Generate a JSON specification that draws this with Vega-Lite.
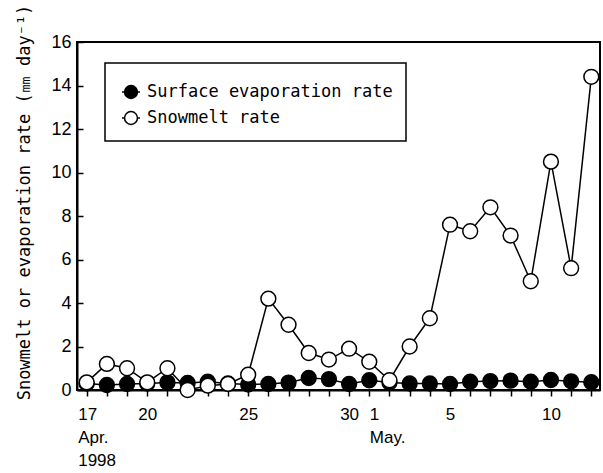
{
  "$schema": "https://vega.github.io/schema/vega-lite/v6.json",
  "width": 523,
  "height": 348,
  "autosize": "none",
  "padding": {"left": 77, "top": 42, "right": 3, "bottom": 83},
  "background": "white",
  "config": {
    "view": {"stroke": "black", "strokeWidth": 2},
    "axis": {"grid": false, "domainColor": "black", "domainWidth": 2, "tickColor": "black", "tickWidth": 1.5, "labelColor": "black", "titleColor": "black"},
    "legend": {"strokeWidth": 1.5}
  },
  "data": {
    "values": [
      {"day": 0, "series": "Surface evaporation rate", "rate": 0.3},
      {"day": 1, "series": "Surface evaporation rate", "rate": 0.23},
      {"day": 2, "series": "Surface evaporation rate", "rate": 0.28},
      {"day": 3, "series": "Surface evaporation rate", "rate": 0.3},
      {"day": 4, "series": "Surface evaporation rate", "rate": 0.35},
      {"day": 5, "series": "Surface evaporation rate", "rate": 0.32},
      {"day": 6, "series": "Surface evaporation rate", "rate": 0.38},
      {"day": 7, "series": "Surface evaporation rate", "rate": 0.3},
      {"day": 8, "series": "Surface evaporation rate", "rate": 0.25},
      {"day": 9, "series": "Surface evaporation rate", "rate": 0.28},
      {"day": 10, "series": "Surface evaporation rate", "rate": 0.34},
      {"day": 11, "series": "Surface evaporation rate", "rate": 0.55},
      {"day": 12, "series": "Surface evaporation rate", "rate": 0.5},
      {"day": 13, "series": "Surface evaporation rate", "rate": 0.28},
      {"day": 14, "series": "Surface evaporation rate", "rate": 0.45},
      {"day": 15, "series": "Surface evaporation rate", "rate": 0.35},
      {"day": 16, "series": "Surface evaporation rate", "rate": 0.3},
      {"day": 17, "series": "Surface evaporation rate", "rate": 0.3},
      {"day": 18, "series": "Surface evaporation rate", "rate": 0.28},
      {"day": 19, "series": "Surface evaporation rate", "rate": 0.38},
      {"day": 20, "series": "Surface evaporation rate", "rate": 0.41},
      {"day": 21, "series": "Surface evaporation rate", "rate": 0.43},
      {"day": 22, "series": "Surface evaporation rate", "rate": 0.38},
      {"day": 23, "series": "Surface evaporation rate", "rate": 0.46},
      {"day": 24, "series": "Surface evaporation rate", "rate": 0.4},
      {"day": 25, "series": "Surface evaporation rate", "rate": 0.36},
      {"day": 0, "series": "Snowmelt rate", "rate": 0.35},
      {"day": 1, "series": "Snowmelt rate", "rate": 1.2},
      {"day": 2, "series": "Snowmelt rate", "rate": 1.0},
      {"day": 3, "series": "Snowmelt rate", "rate": 0.35},
      {"day": 4, "series": "Snowmelt rate", "rate": 1.0},
      {"day": 5, "series": "Snowmelt rate", "rate": 0.0},
      {"day": 6, "series": "Snowmelt rate", "rate": 0.2},
      {"day": 7, "series": "Snowmelt rate", "rate": 0.28},
      {"day": 8, "series": "Snowmelt rate", "rate": 0.7},
      {"day": 9, "series": "Snowmelt rate", "rate": 4.2},
      {"day": 10, "series": "Snowmelt rate", "rate": 3.0},
      {"day": 11, "series": "Snowmelt rate", "rate": 1.7},
      {"day": 12, "series": "Snowmelt rate", "rate": 1.4},
      {"day": 13, "series": "Snowmelt rate", "rate": 1.9},
      {"day": 14, "series": "Snowmelt rate", "rate": 1.3},
      {"day": 15, "series": "Snowmelt rate", "rate": 0.45},
      {"day": 16, "series": "Snowmelt rate", "rate": 2.0},
      {"day": 17, "series": "Snowmelt rate", "rate": 3.3},
      {"day": 18, "series": "Snowmelt rate", "rate": 7.6},
      {"day": 19, "series": "Snowmelt rate", "rate": 7.3},
      {"day": 20, "series": "Snowmelt rate", "rate": 8.4},
      {"day": 21, "series": "Snowmelt rate", "rate": 7.1},
      {"day": 22, "series": "Snowmelt rate", "rate": 5.0},
      {"day": 23, "series": "Snowmelt rate", "rate": 10.5},
      {"day": 24, "series": "Snowmelt rate", "rate": 5.6},
      {"day": 25, "series": "Snowmelt rate", "rate": 14.4}
    ]
  },
  "encoding": {
    "x": {
      "field": "day",
      "type": "quantitative",
      "scale": {"domain": [-0.48, 25.43], "nice": false, "zero": false},
      "axis": {
        "title": null,
        "values": [0,1,2,3,4,5,6,7,8,9,10,11,12,13,14,15,16,17,18,19,20,21,22,23,24,25],
        "labelExpr": "datum.value == 0 ? ['17', 'Apr.', '1998'] : datum.value == 14 ? ['1', 'May.'] : indexof([3, 8, 13], datum.value) >= 0 ? '' + (datum.value + 17) : indexof([18, 23], datum.value) >= 0 ? '' + (datum.value - 13) : ''",
        "labelAlign": {"condition": {"test": "datum.value == 0 || datum.value == 14", "value": "left"}, "value": "center"},
        "labelOffset": {"condition": {"test": "datum.value == 0", "value": -9}, "value": 0},
        "labelOverlap": false,
        "labelFlush": false,
        "labelFont": "Liberation Sans",
        "labelFontSize": 17,
        "labelLineHeight": 23,
        "labelPadding": 10,
        "tickSize": 6
      }
    },
    "y": {
      "field": "rate",
      "type": "quantitative",
      "scale": {"domain": [0, 16], "nice": false},
      "axis": {
        "values": [0, 2, 4, 6, 8, 10, 12, 14, 16],
        "title": "Snowmelt or evaporation rate (㎜ day⁻¹)",
        "titleFont": "DejaVu Sans Mono",
        "titleFontSize": 17,
        "titleFontWeight": "normal",
        "titleAngle": -90,
        "titleX": -53,
        "titleY": 160,
        "titleAlign": "center",
        "titleBaseline": "middle",
        "labelFont": "Liberation Sans",
        "labelFontSize": 18,
        "tickSize": -6,
        "labelPadding": 12
      }
    }
  },
  "layer": [
    {
      "mark": {"type": "line", "color": "black", "strokeWidth": 1.5},
      "encoding": {"detail": {"field": "series"}}
    },
    {
      "mark": {"type": "point", "shape": "circle", "filled": true, "stroke": "black", "strokeWidth": 1.5, "size": 220, "opacity": 1},
      "encoding": {
        "fill": {
          "field": "series",
          "type": "nominal",
          "scale": {"domain": ["Surface evaporation rate", "Snowmelt rate"], "range": ["black", "white"]},
          "legend": {
            "title": null,
            "orient": "none",
            "legendX": 28,
            "legendY": 21,
            "strokeColor": "black",
            "fillColor": "white",
            "padding": 13,
            "symbolType": "M-0.6,0L-0.43,0M0.6,0L0.43,0M-0.43,0A0.43,0.43 0 1,0 0.43,0A0.43,0.43 0 1,0 -0.43,0Z",
            "symbolSize": 900,
            "symbolStrokeColor": "black",
            "symbolStrokeWidth": 1.5,
            "symbolOffset": -3,
            "rowPadding": -4,
            "labelOffset": 0,
            "labelLimit": 0,
            "labelFont": "DejaVu Sans Mono",
            "labelFontSize": 17,
            "labelColor": "black"
          }
        }
      }
    }
  ]
}
